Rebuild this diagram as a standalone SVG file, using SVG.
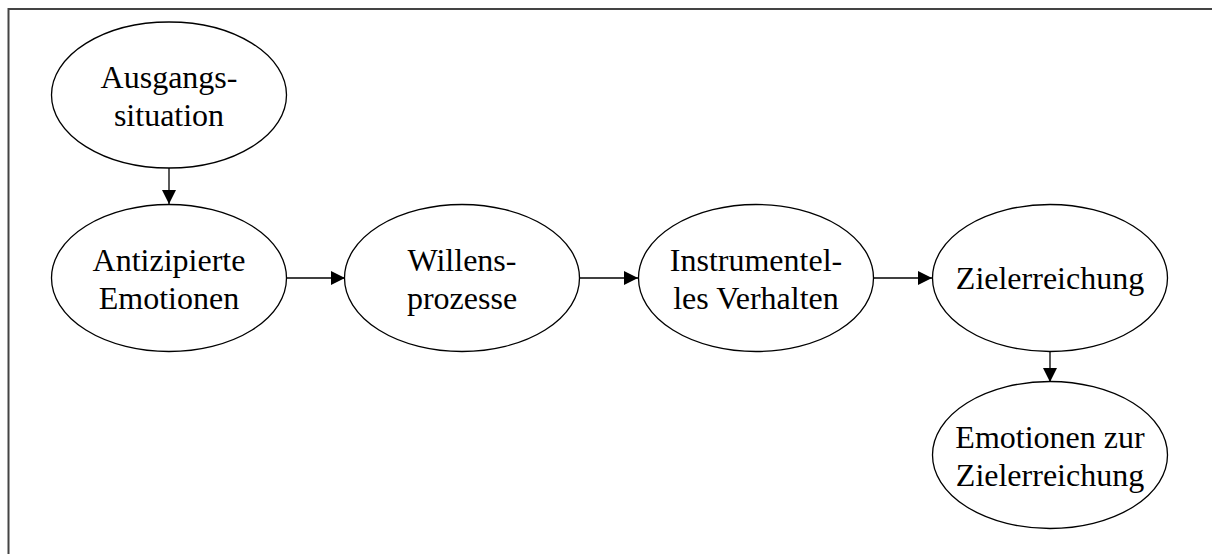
<svg xmlns="http://www.w3.org/2000/svg" width="1212" height="554" viewBox="0 0 1212 554">
<defs>
<style>
.node ellipse{fill:#fff;stroke:#000;stroke-width:1.3}
.node text{font-family:"Liberation Serif","Times New Roman",serif;font-size:32px;fill:#000;text-anchor:middle}
.edges line{stroke:#000;stroke-width:1.3}
</style>
<marker id="arr" viewBox="0 0 10 10" refX="10" refY="5" markerWidth="14" markerHeight="15" markerUnits="userSpaceOnUse" orient="auto">
<path d="M0,0 L10,5 L0,10 Z" fill="#000"/>
</marker>
</defs>
<rect width="1212" height="554" fill="#fff"/>
<path d="M8.5,554 V9 H1212" fill="none" stroke="#444" stroke-width="2"/>
<g class="edges">
<line x1="169" y1="168" x2="169" y2="204" marker-end="url(#arr)"/>
<line x1="286" y1="278" x2="345" y2="278" marker-end="url(#arr)"/>
<line x1="579" y1="278" x2="638" y2="278" marker-end="url(#arr)"/>
<line x1="874" y1="278" x2="932" y2="278" marker-end="url(#arr)"/>
<line x1="1050" y1="352" x2="1050" y2="382" marker-end="url(#arr)"/>
</g>
<g id="ausgangssituation" class="node">
<ellipse cx="169" cy="95" rx="117.5" ry="73"/>
<text x="169" y="88">Ausgangs-</text>
<text x="169" y="126">situation</text>
</g>
<g id="antizipierte" class="node">
<ellipse cx="169" cy="278" rx="117.5" ry="73.5"/>
<text x="169" y="271">Antizipierte</text>
<text x="169" y="309">Emotionen</text>
</g>
<g id="willensprozesse" class="node">
<ellipse cx="462" cy="278" rx="117.5" ry="73.5"/>
<text x="462" y="271">Willens-</text>
<text x="462" y="309">prozesse</text>
</g>
<g id="instrumentelles" class="node">
<ellipse cx="756" cy="278" rx="117.5" ry="73.5"/>
<text x="756" y="271">Instrumentel-</text>
<text x="756" y="309">les Verhalten</text>
</g>
<g id="zielerreichung" class="node">
<ellipse cx="1050" cy="278" rx="117.5" ry="73.5"/>
<text x="1050" y="289">Zielerreichung</text>
</g>
<g id="emotionen_ziel" class="node">
<ellipse cx="1050" cy="455" rx="117.5" ry="73.5"/>
<text x="1050" y="448">Emotionen zur</text>
<text x="1050" y="486">Zielerreichung</text>
</g>
</svg>
